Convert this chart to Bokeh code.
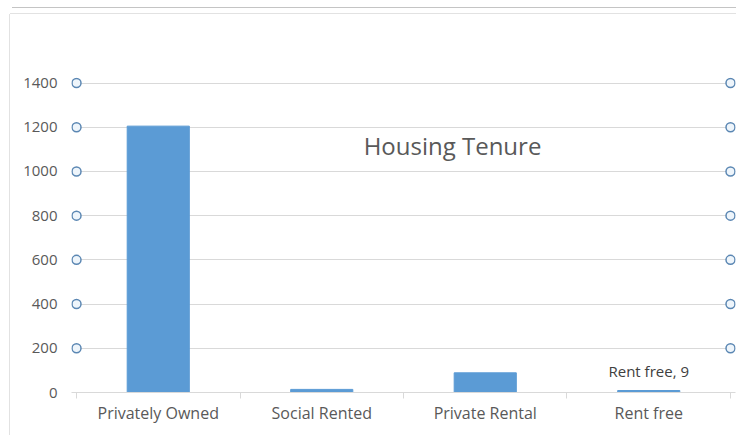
from bokeh.plotting import figure
from bokeh.models import ColumnDataSource, Range1d, FixedTicker, LabelSet, Label
from bokeh.core.properties import value
from bokeh.embed import file_html
from bokeh.resources import INLINE

categories = ["Privately Owned", "Social Rented", "Private Rental", "Rent free"]
counts = [1205, 14, 89, 9]
y_ticks = [0, 200, 400, 600, 800, 1000, 1200, 1400]
chart_title = "Housing Tenure"
labelled = ["Rent free"]

FONT = "Open Sans"
GREY = "#595959"

xs = [i + 0.5 for i in range(len(categories))]
src = ColumnDataSource(dict(x=xs, cat=categories, count=counts))

p = figure(width=736, height=437, output_backend="svg", toolbar_location=None,
           x_range=Range1d(-0.0306, len(categories) + 0.0306),
           y_range=Range1d(0, 1425),
           min_border_left=71, min_border_right=1, min_border_top=77, min_border_bottom=45)
p.outline_line_color = None
p.background_fill_color = "white"
p.border_fill_color = None
# faint chart-area frame lines (as in the spreadsheet screenshot)
p.styles = {
    "background": (
        "linear-gradient(#c4c4c4,#c4c4c4) 12px 7px / 724px 1px no-repeat,"
        "linear-gradient(#e2e2e2,#e2e2e2) 10px 13px / 726px 1px no-repeat,"
        "linear-gradient(#e2e2e2,#e2e2e2) 9px 14px / 1px 421px no-repeat,"
        "white"
    )
}

p.vbar(x="x", top="count", width=0.38, bottom=0, source=src, color="#5b9bd5")

# y axis
p.yaxis.ticker = FixedTicker(ticks=y_ticks)
p.yaxis.axis_line_color = None
p.yaxis.major_tick_line_color = None
p.yaxis.major_tick_out = 0
p.yaxis.major_tick_in = 0
p.yaxis.minor_tick_line_color = None
p.yaxis.major_label_standoff = 14
p.yaxis.major_label_text_font = FONT
p.yaxis.major_label_text_font_size = "15px"
p.yaxis.major_label_text_color = GREY

# x axis: labels at category centres, ticks at boundaries
p.xaxis.ticker = FixedTicker(ticks=xs, minor_ticks=list(range(len(categories) + 1)))
p.xaxis.major_label_overrides = {x: c for x, c in zip(xs, categories)}
p.xaxis.major_tick_line_color = None
p.xaxis.major_tick_out = 0
p.xaxis.major_tick_in = 0
p.xaxis.minor_tick_line_color = "#d9d9d9"
p.xaxis.minor_tick_out = 6
p.xaxis.minor_tick_in = 0
p.xaxis.axis_line_color = "#d9d9d9"
p.xaxis.major_label_standoff = 3
p.xaxis.major_label_text_font = FONT
p.xaxis.major_label_text_font_size = "16px"
p.xaxis.major_label_text_color = GREY

p.xgrid.grid_line_color = None
p.ygrid.ticker = FixedTicker(ticks=y_ticks[1:])
p.ygrid.grid_line_color = "#d9d9d9"

# gridline selection handles
hy = [t for t in y_ticks if t > 0]
hsrc = ColumnDataSource(dict(x=[0] * len(hy) + [len(categories)] * len(hy), y=hy + hy))
p.scatter(x="x", y="y", source=hsrc, size=9, marker="circle",
          fill_color="#eef5fb", line_color="#5b87b3", line_width=1.5)

# data label
lab = [(x, c, v) for x, c, v in zip(xs, categories, counts) if c in labelled]
lsrc = ColumnDataSource(dict(x=[l[0] for l in lab], y=[l[2] for l in lab],
                             t=[f"{l[1]}, {l[2]}" for l in lab]))
p.add_layout(LabelSet(x="x", y="y", text="t", source=lsrc, text_align="center",
                      text_baseline="bottom", y_offset=10, text_font=value(FONT),
                      text_font_size="15px", text_color="#404040"))

p.add_layout(Label(x=381, y=247, x_units="screen", y_units="screen", text=chart_title,
                   text_align="center", text_baseline="middle", text_font=FONT,
                   text_font_size="24px", text_color=GREY))

open("out.html", "w").write(file_html(p, INLINE))
